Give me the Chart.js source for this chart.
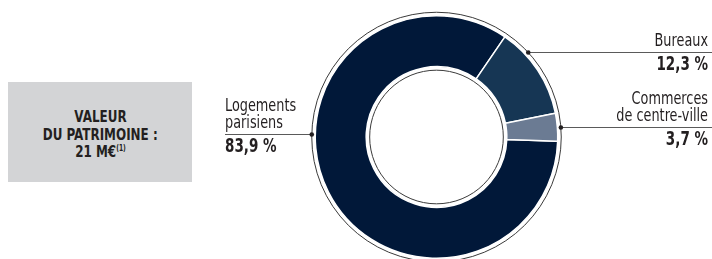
<!DOCTYPE html>
<html lang="fr">
<head>
    <meta charset="UTF-8">
    <title>Valeur du patrimoine</title>
    <script src="https://cdn.jsdelivr.net/npm/chart.js"></script>
    <style>
        html, body { margin: 0; padding: 0; background: #fff; }
        #wrap { position: relative; width: 712px; height: 259px; overflow: hidden; }
        #box {
            position: absolute; left: 8px; top: 82px; width: 184px; height: 100px;
            background: #d3d4d6; color: #231f20; text-align: center;
            font-family: 'Liberation Sans Narrow', 'DejaVu Sans Condensed', sans-serif;
            font-weight: bold; font-size: 16px; line-height: 17.5px;
            box-sizing: border-box; padding-top: 26px;
        }
        #box span { display: inline-block; transform: scaleX(0.83); transform-origin: center; white-space: nowrap; }
        #box sup { font-size: 8px; vertical-align: 6px; line-height: 0; }
        canvas { position: absolute; left: 0; top: 0; }
    </style>
</head>
<body>
<div id="wrap">
    <div id="box"><span>VALEUR</span><br><span>DU PATRIMOINE :</span><br><span>21 M€<sup>(1)</sup></span></div>
    <canvas id="patrimoine" width="712" height="259"></canvas>
</div>

<script>
    // Données
    const categories = ['Logements parisiens', 'Bureaux', 'Commerces de centre-ville'];
    const labelLines = [['Logements', 'parisiens'], ['Bureaux'], ['Commerces', 'de centre-ville']];
    const parts = [83.9, 12.3, 3.7];
    const partLabels = ['83,9 %', '12,3 %', '3,7 %'];
    const colors = ['#011839', '#163654', '#6b7b93'];

    // Placement des étiquettes (hauteur du trait, côté)
    const callouts = [
        { lineY: 134.5, side: 'left', textX: 225 },
        { lineY: 52.5, side: 'right', textX: 708 },
        { lineY: 127.5, side: 'right', textX: 708 }
    ];

    const FONT = "'Liberation Sans Narrow', 'DejaVu Sans Condensed', sans-serif";

    // texte resserré horizontalement (police condensée)
    function drawText(ctx, text, x, y, squeeze) {
        ctx.save();
        ctx.translate(x, y);
        ctx.scale(squeeze, 1);
        ctx.fillText(text, 0, 0);
        ctx.restore();
    }

    const ringsAndCallouts = {
        id: 'ringsAndCallouts',
        afterDatasetsDraw(chart) {
            const ctx = chart.ctx;
            const arc = chart.getDatasetMeta(0).data[0];
            const cx = arc.x, cy = arc.y;
            const rOut = arc.outerRadius + 3.5;
            const rIn = arc.innerRadius - 3.5;

            ctx.save();
            ctx.strokeStyle = '#3a3a3a';
            ctx.lineWidth = 1;
            ctx.beginPath(); ctx.arc(cx, cy, rOut, 0, Math.PI * 2); ctx.stroke();
            ctx.beginPath(); ctx.arc(cx, cy, rIn, 0, Math.PI * 2); ctx.stroke();

            callouts.forEach((c, i) => {
                const dy = c.lineY - cy;
                const dx = Math.sqrt(Math.max(rOut * rOut - dy * dy, 0));
                const dotX = c.side === 'left' ? cx - dx : cx + dx;
                const endX = c.side === 'left' ? c.textX : chart.width;

                ctx.strokeStyle = '#5a5a5a';
                ctx.lineWidth = 1;
                ctx.beginPath();
                ctx.moveTo(endX, c.lineY);
                ctx.lineTo(dotX, c.lineY);
                ctx.stroke();

                ctx.fillStyle = '#231f20';
                ctx.beginPath();
                ctx.arc(dotX, c.lineY, 2.3, 0, Math.PI * 2);
                ctx.fill();

                ctx.textAlign = c.side === 'left' ? 'left' : 'right';
                ctx.textBaseline = 'alphabetic';
                ctx.font = '17px ' + FONT;
                const lines = labelLines[i];
                lines.forEach((t, k) => {
                    const y = c.lineY - 6.5 - (lines.length - 1 - k) * 17.3;
                    drawText(ctx, t, c.textX, y, 0.84);
                });
                ctx.font = 'bold 19px ' + FONT;
                drawText(ctx, partLabels[i], c.textX, c.lineY + 17.5, 0.79);
            });
            ctx.restore();
        }
    };

    new Chart(document.getElementById('patrimoine'), {
        type: 'doughnut',
        data: {
            labels: categories,
            datasets: [{
                data: parts,
                backgroundColor: colors,
                borderColor: '#ffffff',
                borderWidth: 1.5,
                hoverOffset: 0
            }]
        },
        options: {
            responsive: false,
            animation: false,
            rotation: 92,
            cutout: '58%',
            layout: { padding: { left: 190, right: 29, top: 15, bottom: 0 } },
            plugins: {
                legend: { display: false },
                tooltip: { enabled: false }
            }
        },
        plugins: [ringsAndCallouts]
    });
</script>
</body>
</html>
